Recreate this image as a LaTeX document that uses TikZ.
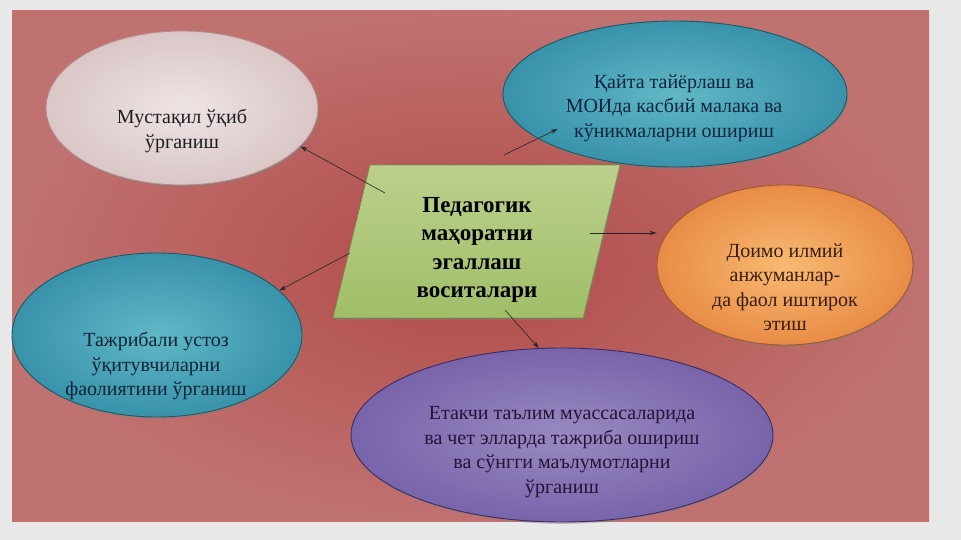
\documentclass[tikz,border=0pt]{standalone}
\usepackage{fontspec}
\setmainfont{Liberation Serif}
\usetikzlibrary{shapes.geometric,arrows.meta,shadows}
\definecolor{outerbg}{RGB}{232,232,232}
\definecolor{redin}{RGB}{176,74,72}
\definecolor{redout}{RGB}{192,114,112}
\definecolor{pinkin}{RGB}{238,228,228}
\definecolor{pinkout}{RGB}{218,198,198}
\definecolor{pinkline}{RGB}{180,140,140}
\definecolor{tealin}{RGB}{96,184,198}
\definecolor{tealout}{RGB}{56,146,170}
\definecolor{tealline}{RGB}{30,88,100}
\definecolor{orin}{RGB}{248,186,114}
\definecolor{orout}{RGB}{232,140,70}
\definecolor{orline}{RGB}{160,90,40}
\definecolor{purin}{RGB}{152,138,192}
\definecolor{purout}{RGB}{120,100,170}
\definecolor{purline}{RGB}{60,44,100}
\definecolor{grtop}{RGB}{188,208,140}
\definecolor{grbot}{RGB}{160,190,104}
\definecolor{grline}{RGB}{130,150,80}
\begin{document}
\begin{tikzpicture}[x=1pt,y=-1pt,
  blob/.style={ellipse, inner sep=0pt, line width=0.9pt,
    drop shadow={shadow xshift=1.2pt, shadow yshift=-1.8pt, opacity=0.45}},
  txt/.style={align=center, font=\rmfamily\fontsize{20}{24.5}\selectfont, inner sep=0pt},
  btxt/.style={align=center, font=\rmfamily\bfseries\fontsize{23}{28.5}\selectfont, inner sep=0pt},
  arr/.style={-{Stealth[length=7pt,width=4.5pt]}, line width=0.6pt, draw=black!85}]
\useasboundingbox (0,0) rectangle (961,540);
\fill[outerbg] (0,0) rectangle (961,540);
\shade[inner color=redin, outer color=redout] (12,11) rectangle (929,521);

% central parallelogram
\filldraw[top color=grtop, bottom color=grbot, draw=grline, line width=0.6pt,
  drop shadow={shadow xshift=1.2pt, shadow yshift=-1.8pt, opacity=0.4}]
  (370,165) -- (620,165) -- (583,318) -- (333,318) -- cycle;
\node[btxt] (c) at (477,250) {Педагогик\\маҳоратни\\эгаллаш\\воситалари};

% ellipses
\node[blob, minimum width=272pt, minimum height=154pt, inner color=pinkin, outer color=pinkout, draw=pinkline] (e1) at (182,108) {};
\node[blob, minimum width=344pt, minimum height=146pt, inner color=tealin, outer color=tealout, draw=tealline] (e2) at (675,94) {};
\node[blob, minimum width=256pt, minimum height=160pt, inner color=orin, outer color=orout, draw=orline] (e3) at (785,265) {};
\node[blob, minimum width=290pt, minimum height=164pt, inner color=tealin, outer color=tealout, draw=tealline] (e4) at (157,335) {};
\node[blob, minimum width=422pt, minimum height=174pt, inner color=purin, outer color=purout, draw=purline] (e5) at (562,435) {};

% texts
\node[txt, text=black!88] (t1) at (182,131) {Мустақил ўқиб\\ўрганиш};
\node[txt, text={rgb,255:red,16;green,36;blue,64}] (t2) at (674,108) {Қайта тайёрлаш ва\\МОИда касбий малака ва\\кўникмаларни ошириш};
\node[txt, text={rgb,255:red,58;green,28;blue,16}] (t3) at (785,287) {Доимо илмий\\анжуманлар-\\да фаол иштирок\\этиш};
\node[txt, text={rgb,255:red,16;green,36;blue,56}] (t4) at (156,366) {Тажрибали устоз\\ўқитувчиларни\\фаолиятини ўрганиш};
\node[txt, text={rgb,255:red,36;green,20;blue,56}] (t5) at (562,452) {Етакчи таълим муассасаларида\\ва чет элларда тажриба ошириш\\ва сўнгги маълумотларни\\ўрганиш};

% connectors
\coordinate (s1) at (385,193);
\coordinate (s2) at (504,155);
\coordinate (s3) at (590,233);
\coordinate (s4) at (505,310);
\coordinate (s5) at (350,253);
\draw[arr] (s1) -- (e1.-18);
\draw[arr, shorten >=-22pt] (s2) -- (e2.-162);
\draw[arr] (s3) -- (s3 -| e3.west);
\draw[arr] (s4) -- (e5.105);
\draw[arr] (s5) -- (e4.20);
\end{tikzpicture}
\end{document}
